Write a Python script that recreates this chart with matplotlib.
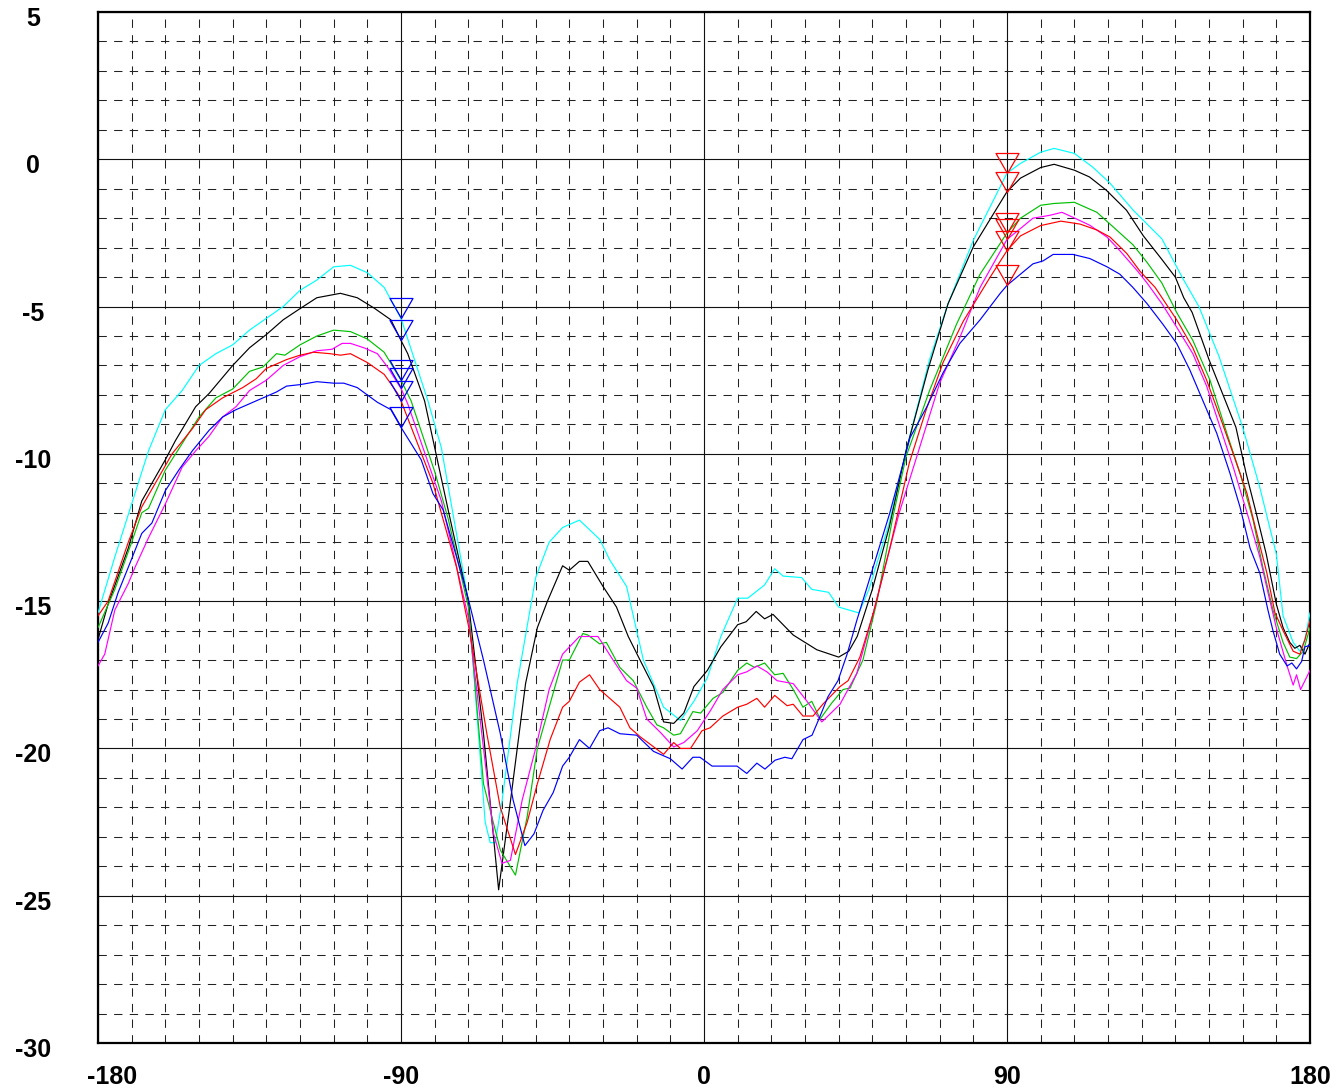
import matplotlib
matplotlib.use("Agg")
import matplotlib.pyplot as plt
import matplotlib.transforms as mtransforms
from matplotlib.path import Path
import numpy as np

plt.rcParams['font.family'] = ['Liberation Sans', 'DejaVu Sans']

# angle (deg) / level (dB)
cyan_x = [-180, -175, -170, -165, -160, -155, -150, -145, -140, -135, -130, -125, -120, -115, -110, -105,
          -100, -95, -90, -82, -78, -74, -70, -67, -65, -63.5, -62, -60, -55.5, -50, -46, -42, -37, -31, -28,
          -23, -18, -12, -7, -3, 1, 5, 10, 13, 18, 21, 23.5, 29, 32, 37, 40, 46, 49, 55, 60, 67, 72.5, 80,
          90, 94, 100, 104, 110, 115.5, 120.5, 127.5, 136, 142, 147, 153, 160, 165, 170, 172, 175, 177, 178.5, 180]
cyan_y = [-15.4, -13.5, -11.7, -9.9, -8.5, -7.85, -7.0, -6.6, -6.3, -5.8, -5.4, -5.0, -4.45, -4.1, -3.65, -3.6,
          -3.85, -4.35, -5.4, -8.2, -9.8, -12.4, -15.0, -19.5, -22.5, -23.2, -23.2, -21.8, -17.8, -14.2, -13.0, -12.5,
          -12.25, -12.9, -13.6, -14.5, -17.0, -18.6, -19.05, -18.4, -17.6, -16.2, -14.9, -14.9, -14.45, -13.9,
          -14.15, -14.2, -14.6, -14.7, -15.2, -15.4, -14.6, -12.35, -9.9, -6.8, -4.9, -2.75, -0.47, -0.14, 0.24,
          0.37, 0.2, -0.27, -0.8, -1.73, -2.7, -4.0, -5.0, -6.7, -9.1, -11.1, -13.4, -15.5, -16.4, -16.7, -16.3, -15.4]

black_x = [-180, -177, -171, -167, -160, -157, -151, -147, -140, -135, -130, -125, -120, -115, -108, -103, -98,
           -93, -90, -88, -83, -76, -70, -65.5, -61, -57.5, -53, -49.5, -46.5, -42, -40, -37, -34.5, -30, -26,
           -22.5, -19, -15, -12, -9, -6, -3, 1, 5, 10, 12.5, 15.5, 18, 20.5, 26.5, 33.5, 40, 43, 45.5, 50, 55,
           60, 66.5, 72.5, 80, 90, 94, 100, 104, 110, 114.5, 119.5, 125.5, 130.5, 136, 140, 142.5, 145, 150,
           154, 158, 161, 164, 167, 170, 172, 174, 175.5, 177, 178.5, 180]
black_y = [-16.3, -15.1, -13.2, -11.6, -10.2, -9.55, -8.4, -7.95, -7.0, -6.4, -5.95, -5.45, -5.07, -4.7, -4.55,
           -4.7, -5.05, -5.45, -6.15, -6.6, -8.2, -11.9, -15.0, -19.5, -24.8, -21.8, -17.8, -15.9, -15.0, -13.8,
           -13.95, -13.65, -13.65, -14.5, -15.2, -16.2, -17.0, -17.9, -19.1, -19.15, -18.8, -17.9, -17.35, -16.55,
           -15.8, -15.7, -15.35, -15.6, -15.45, -16.15, -16.65, -16.9, -16.7, -16.2, -14.6, -12.5, -9.9, -7.15,
           -4.9, -2.97, -1.1, -0.64, -0.28, -0.17, -0.37, -0.6, -1.05, -1.73, -2.6, -3.4, -4.0, -4.7, -5.2, -6.8,
           -7.95, -9.1, -10.65, -12.0, -13.4, -15.1, -15.9, -16.4, -16.6, -16.5, -16.8, -16.4]

green_x = [-180, -175, -170, -167, -165, -160, -155, -150, -145, -140, -135, -131, -127, -124.5, -120, -115,
           -110, -105, -100, -95, -90, -87, -80, -76, -70, -65.5, -60.5, -56, -52.5, -49.5, -45.5, -42, -40, -36,
           -34.5, -31, -29, -25, -21, -17, -14, -12, -9, -7, -3.3, -1, 2.7, 5.6, 10, 12.7, 15, 18, 21, 23.5,
           26.5, 29.4, 32, 34.5, 38, 41.3, 43.4, 47.2, 51.4, 56, 60, 67, 75, 82, 90, 94, 100, 104, 110, 116.7,
           120.6, 127.4, 131.6, 136, 140.4, 145.2, 150.3, 155.3, 159.2, 163.1, 166, 169, 172, 174, 176, 178, 180]
green_y = [-15.9, -14.6, -13.0, -12.0, -11.85, -10.55, -9.65, -8.75, -8.1, -7.8, -7.2, -7.05, -6.6, -6.65, -6.3,
           -6.0, -5.8, -5.85, -6.1, -6.55, -7.5, -8.2, -10.6, -12.2, -15.2, -21.2, -23.45, -24.3, -22.3, -20.0,
           -18.4, -17.0, -17.0, -16.1, -16.15, -16.45, -16.4, -17.25, -17.7, -18.6, -19.2, -19.3, -19.55, -19.5,
           -18.75, -18.8, -18.3, -18.1, -17.35, -17.1, -17.25, -17.1, -17.5, -17.45, -18.0, -18.6, -18.4, -19.0,
           -18.45, -18.0, -17.95, -17.0, -15.0, -12.2, -10.1, -7.85, -5.6, -3.9, -2.5, -2.0, -1.56, -1.5, -1.46,
           -1.8, -2.2, -2.9, -3.5, -4.2, -5.2, -6.15, -7.5, -9.3, -10.65, -12.25, -13.85, -15.3, -16.4, -16.9,
           -16.95, -16.7, -15.9]

magenta_x = [-180, -178, -175, -171, -169, -165, -160, -155, -151, -147, -143, -139, -135, -130, -125, -120,
             -115, -110.5, -107.5, -105, -101, -97, -94, -90, -88, -78, -70, -66, -62.5, -60, -57.5, -54, -50,
             -46, -42, -37, -31.5, -27, -23, -20, -17, -13, -9, -6, -2, 2, 5.6, 10, 12.7, 15.7, 18.7, 21.7, 26.5,
             30.6, 35, 40.4, 45.4, 50.3, 55, 58, 64, 70, 76, 82, 90, 94, 97.7, 102.8, 106.3, 109.6, 114.6, 119.7,
             123.5, 128.6, 131.6, 136, 140.4, 145.2, 149.3, 153.3, 157.2, 161.3, 165.1, 167.5, 170.2, 173.2, 175,
             176, 177.2, 178.5, 180]
magenta_y = [-17.2, -16.8, -15.3, -14.4, -13.85, -12.85, -11.7, -10.45, -9.9, -9.4, -8.75, -8.4, -7.85, -7.5,
             -7.0, -6.7, -6.5, -6.45, -6.25, -6.25, -6.4, -6.6, -7.05, -7.78, -8.3, -11.6, -15.55, -19.5, -22.9,
             -23.9, -23.8, -21.75, -20.0, -18.0, -16.8, -16.2, -16.2, -17.0, -17.7, -17.95, -19.0, -19.45, -19.95,
             -19.8, -19.4, -18.7, -18.0, -17.5, -17.4, -17.2, -17.4, -17.7, -17.8, -18.4, -19.1, -18.5, -17.45,
             -15.4, -13.3, -12.0, -9.8, -7.6, -6.05, -4.35, -2.72, -2.35, -2.0, -1.9, -1.8, -1.97, -2.24, -2.64,
             -3.1, -3.77, -4.2, -4.9, -5.7, -6.6, -7.7, -9.1, -10.45, -12.0, -13.5, -14.7, -16.0, -17.2, -17.85,
             -17.5, -18.0, -17.7, -17.35]

red_x = [-180, -177, -171, -167, -162, -158, -152, -148, -143, -137, -133, -130, -124, -120, -116, -111, -108,
         -105, -100, -95, -91, -90, -80.5, -73.5, -69.5, -64.5, -60.5, -56, -52.5, -49.5, -45.7, -42, -40, -37,
         -34, -31, -28, -25, -22, -19, -12, -9, -7, -4, -0.6, 1.8, 5.6, 10, 12.7, 15.7, 18, 21, 24.7, 26.5, 29.4,
         32.4, 35.3, 40.4, 42.8, 46.3, 50.3, 55.2, 61, 66, 71, 77, 85, 90, 94, 100, 106, 111.7, 116.7, 120.6,
         125.6, 129.5, 134, 140.4, 145.2, 149.3, 153.3, 157.2, 161.3, 164.2, 167.2, 169.6, 172, 175, 177, 178.5, 180]
red_y = [-15.5, -15.0, -13.0, -11.8, -10.8, -10.0, -9.15, -8.5, -8.1, -7.75, -7.45, -7.1, -6.8, -6.65, -6.55,
         -6.6, -6.65, -6.6, -6.9, -7.3, -7.95, -8.2, -11.0, -13.85, -16.1, -19.5, -22.0, -23.6, -22.5, -21.2, -19.7,
         -18.6, -18.4, -17.75, -17.5, -18.0, -18.3, -18.6, -19.3, -19.6, -20.2, -19.8, -20.0, -20.0, -19.4, -19.3,
         -18.9, -18.6, -18.5, -18.3, -18.6, -18.2, -18.55, -18.5, -18.9, -18.9, -18.5, -17.9, -17.7, -16.9, -15.4,
         -13.2, -10.3, -8.5, -6.9, -5.5, -4.0, -3.1, -2.6, -2.25, -2.1, -2.2, -2.4, -2.64, -3.2, -3.8, -4.35,
         -5.45, -6.4, -7.5, -8.75, -10.0, -11.35, -12.7, -14.05, -15.4, -16.0, -16.7, -16.8, -16.3, -15.65]

blue_x = [-180, -177, -174, -171, -167, -164, -160, -156, -152, -147, -143, -139, -135, -131, -127, -124, -120,
          -115, -110, -107, -103, -100, -97, -93, -90, -84, -80.5, -77.5, -70.5, -65.5, -60.5, -56.7, -53.2, -50.5,
          -47.8, -44.8, -42, -40, -37, -34, -31, -28.5, -25, -20, -15, -10, -6.5, -3.3, -1.2, 2.4, 9.8, 12.7,
          15.7, 18.1, 21.1, 24, 26.1, 29.4, 32.1, 34.5, 36.8, 39.8, 42.5, 45.4, 49.3, 55.2, 61.2, 66.2, 71, 76,
          82, 88, 90, 94, 97.7, 100.7, 103.7, 109.6, 114.6, 119.7, 123.5, 127.4, 131.6, 136.3, 140.4, 144.3,
          148.2, 152.3, 156.2, 159.2, 162.2, 165.1, 167.5, 169, 171, 173.2, 174.6, 176, 177.5, 178.5, 180]
blue_y = [-16.4, -15.75, -14.7, -13.85, -12.7, -12.35, -11.25, -10.55, -9.9, -9.2, -8.75, -8.5, -8.3, -8.1, -7.9,
          -7.7, -7.65, -7.55, -7.6, -7.6, -7.75, -8.0, -8.25, -8.5, -9.1, -10.2, -11.35, -11.9, -14.7, -17.0,
          -19.5, -21.75, -23.3, -22.9, -22.1, -21.5, -20.6, -20.3, -19.7, -20.0, -19.4, -19.3, -19.5, -19.55,
          -20.1, -20.35, -20.7, -20.3, -20.3, -20.6, -20.6, -20.85, -20.5, -20.7, -20.4, -20.3, -20.35, -19.7,
          -19.55, -18.9, -18.25, -17.7, -16.8, -15.65, -14.2, -12.0, -9.45, -8.4, -7.25, -6.25, -5.45, -4.55,
          -4.28, -3.9, -3.55, -3.45, -3.23, -3.23, -3.37, -3.65, -3.9, -4.35, -4.9, -5.6, -6.25, -7.15, -8.2,
          -9.3, -10.65, -11.8, -13.2, -14.05, -15.3, -16.0, -16.8, -17.2, -17.1, -17.3, -17.05, -16.55, -16.5]

series = [
    (cyan_x, cyan_y, '#00ffff'),
    (black_x, black_y, '#000000'),
    (green_x, green_y, '#00c000'),
    (magenta_x, magenta_y, '#ff00ff'),
    (red_x, red_y, '#ff0000'),
    (blue_x, blue_y, '#0000ff'),
]

marker_angles = [-90, 90]
marker_colors = ['#0000ff', '#ff0000']

x_ticks = [-180, -90, 0, 90, 180]
y_ticks = [5, 0, -5, -10, -15, -20, -25, -30]

fig = plt.figure(figsize=(13.41, 10.91), dpi=100)
ax = fig.add_axes([98 / 1341, 48 / 1091, 1212 / 1341, 1031 / 1091])
ax.set_xlim(-180, 180)
ax.set_ylim(-30, 5)

ax.set_xticks(x_ticks)
ax.set_xticks(np.arange(-180, 181, 10), minor=True)
ax.set_yticks(y_ticks)
ax.set_yticks(np.arange(-30, 6, 1), minor=True)
ax.tick_params(which='both', length=0, labelbottom=False, labelleft=False)
ax.grid(which='major', color='#111111', lw=0.8, ls='-')
ax.grid(which='minor', color='#222222', lw=0.75, ls=(0, (8, 7)))
ax.set_axisbelow(True)
for s in ax.spines.values():
    s.set_linewidth(1.6)
    s.set_color('black')

# downward triangle with its tip on the point
tri = Path([(-0.575, 1.0), (0.575, 1.0), (0.0, 0.0), (-0.575, 1.0)],
           [Path.MOVETO, Path.LINETO, Path.LINETO, Path.CLOSEPOLY])

for xs, ys, c in series:
    ax.plot(xs, ys, color=c, lw=0.85, zorder=3)

for xs, ys, c in series:
    for a, mc in zip(marker_angles, marker_colors):
        v = ys[xs.index(a)]
        ax.plot([a], [v], marker=tri, ms=28.8, mfc='none', mec=mc, mew=0.9, ls='none', zorder=4)

bold = dict(fontsize=18, fontweight='bold', color='black')
ytr = ax.get_yaxis_transform() + mtransforms.ScaledTranslation(0, -0.07, fig.dpi_scale_trans)
for v in y_ticks:
    ax.text(-0.0536, v, str(v), transform=ytr, ha='center', va='center', clip_on=False, **bold)

for v in x_ticks:
    dx = 0.14 if v == -180 else 0.0
    xtr = ax.get_xaxis_transform() + mtransforms.ScaledTranslation(dx, 0, fig.dpi_scale_trans)
    ax.text(v, -0.033, str(v), transform=xtr, ha='center', va='center', clip_on=False, **bold)

fig.savefig('out.png', dpi=100)
